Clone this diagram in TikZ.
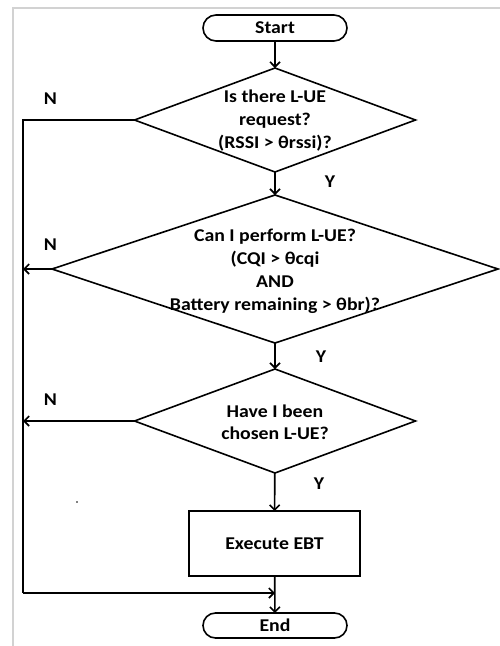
\documentclass[tikz,border=0pt]{standalone}
\usepackage{fontspec}
\setmainfont{Carlito}[FakeStretch=1.1]
\usetikzlibrary{shapes.geometric,shapes.misc,arrows.meta}
\begin{document}
\begin{tikzpicture}[x=1pt,y=-1pt, line width=1.6pt,
  font=\bfseries\fontsize{18}{23}\selectfont,
  arr/.style={-{Straight Barb[length=5pt,width=10pt]}},
  term/.style={draw, rounded rectangle, minimum width=144pt, minimum height=26pt, inner sep=0pt, outer sep=0pt},
  dec/.style={draw, diamond, inner sep=0pt, outer sep=0pt},
  procbox/.style={draw, rectangle, minimum width=171pt, minimum height=65pt, inner sep=0pt, outer sep=0pt},
  txt/.style={align=center, inner sep=0pt},
  lbl/.style={inner sep=0pt}]
\useasboundingbox (0,0) rectangle (500,646);
\draw[gray!35, line width=2pt] (13,646) -- (13,8) -- (500,8);
\node[term] (start) at (275,28) {Start};
\node[dec, minimum width=281pt, minimum height=104pt] (d1) at (275,120) {};
\node[txt] (d1t) at (275,120.5) {Is there L-UE\\request?\\(RSSI > θrssi)?};
\node[dec, minimum width=446pt, minimum height=148pt] (d2) at (275,269) {};
\node[txt] (d2t) at (275,271) {Can I perform L-UE?\\(CQI > θcqi\\AND\\Battery remaining > θbr)?};
\node[dec, minimum width=281pt, minimum height=104pt] (d3) at (275,421) {};
\node[txt, font=\bfseries\fontsize{18}{22}\selectfont] (d3t) at (275,422.5) {Have I been\\chosen L-UE?};
\node[procbox] (ebt) at (274.5,543.5) {Execute EBT};
\node[term, minimum height=25pt] (end) at (275,625.5) {End};
\coordinate (c1) at (23,120);
\coordinate (c2) at (23,269);
\coordinate (c3) at (23,421);
\coordinate (c4) at (23,593);
\draw[arr] (start) -- (d1);
\draw[arr] (d1) -- (d2);
\draw[arr] (d2) -- (d3);
\draw[arr] (d3) -- (ebt);
\draw[arr] (ebt) -- (end);
\draw (d1.west) -- (c1) -- (c4);
\draw[arr] (d2.west) -- (c2);
\draw[arr] (d3.west) -- (c3);
\draw[arr] (c4) -- (c4 -| end.north);
\node[lbl] (n1) at (50.5,99) {N};
\node[lbl] (n2) at (50.5,244.5) {N};
\node[lbl] (n3) at (50.5,399.5) {N};
\node[lbl] (y1) at (330,181.5) {Y};
\node[lbl] (y2) at (321,356.5) {Y};
\node[lbl] (y3) at (319,484) {Y};
\fill (77,502) circle (0.8pt);
\end{tikzpicture}
\end{document}
